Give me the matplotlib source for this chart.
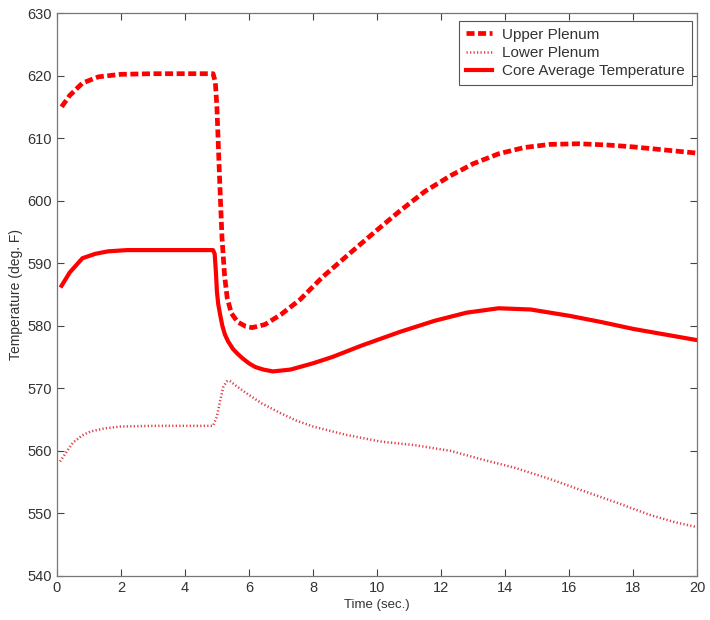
import matplotlib
matplotlib.use("Agg")
import matplotlib.pyplot as plt

# ---- data ----
upper_t = [0.15, 0.4, 0.8, 1.3, 2.0, 3.0, 4.0, 4.88, 4.95, 5.0, 5.08, 5.16, 5.24, 5.32,
           5.45, 5.65, 5.9, 6.1, 6.5, 7.0, 7.6, 8.3, 9.2, 10.0, 10.7, 11.5, 12.3, 13.0,
           13.8, 14.6, 15.4, 16.3, 17.2, 18.0, 19.0, 20.0]
upper_T = [615.0, 616.8, 618.8, 619.8, 620.2, 620.3, 620.3, 620.3, 619.0, 615.0, 604.0,
           594.0, 588.0, 584.5, 582.0, 580.6, 579.9, 579.7, 580.2, 581.8, 584.2, 587.8,
           591.8, 595.3, 598.3, 601.5, 604.0, 605.9, 607.5, 608.5, 609.0, 609.1, 608.9,
           608.6, 608.1, 607.6]

lower_t = [0.1, 0.3, 0.5, 0.8, 1.05, 1.5, 2.0, 3.0, 4.0, 4.88, 5.0, 5.1, 5.2, 5.3, 5.4,
           5.6, 5.9, 6.4, 7.0, 7.5, 8.0, 9.0, 10.1, 11.2, 12.3, 13.3, 14.3, 15.4, 16.5,
           17.5, 18.5, 19.3, 20.0]
lower_T = [558.3, 559.8, 561.3, 562.5, 563.1, 563.6, 563.9, 564.0, 564.0, 564.0, 565.5,
           568.0, 570.2, 571.1, 571.2, 570.4, 569.3, 567.6, 566.0, 564.8, 563.9, 562.6,
           561.5, 560.9, 560.0, 558.6, 557.3, 555.5, 553.5, 551.7, 549.8, 548.6, 547.8]

core_t = [0.15, 0.4, 0.8, 1.2, 1.6, 2.2, 3.0, 4.0, 4.88, 4.93, 4.97, 5.0, 5.04, 5.1,
          5.17, 5.25, 5.35, 5.5, 5.65, 5.8, 6.0, 6.2, 6.45, 6.75, 7.3, 8.0, 8.6, 9.5,
          10.7, 11.8, 12.8, 13.8, 14.8, 16.0, 17.0, 18.0, 19.0, 20.0]
core_T = [586.4, 588.5, 590.8, 591.5, 591.9, 592.1, 592.1, 592.1, 592.1, 591.5, 588.5,
          585.5, 583.5, 581.8, 580.0, 578.6, 577.5, 576.3, 575.5, 574.8, 574.0, 573.4,
          573.0, 572.7, 573.0, 574.0, 575.0, 576.8, 579.0, 580.8, 582.1, 582.8, 582.6,
          581.6, 580.6, 579.5, 578.6, 577.7]

labels = ["Upper Plenum", "Lower Plenum", "Core Average Temperature"]
x_ticks = list(range(0, 21, 2))
y_ticks = list(range(540, 631, 10))

plt.rcParams['font.family'] = ['Liberation Sans', 'DejaVu Sans']

fig = plt.figure(figsize=(7.1, 6.2), dpi=100)
ax = fig.add_axes([0.080, 0.071, 0.902, 0.908])

ax.plot(upper_t, upper_T, color='#ff0000', lw=3.4, linestyle=(0, (1.7, 0.75)),
        label=labels[0])
ax.plot(lower_t, lower_T, color='#e0404a', lw=1.8, linestyle=(0, (0.5, 0.9)),
        label=labels[1])
ax.plot(core_t, core_T, color='#ff0000', lw=3.0, label=labels[2],
        solid_joinstyle='round')

ax.set_xlim(0, 20)
ax.set_ylim(540, 630)
ax.set_xticks(x_ticks)
ax.set_yticks(y_ticks)
ax.tick_params(direction='in', top=True, right=True, length=5, width=0.8,
               colors='#444444', labelsize=10.5, labelcolor='#333333')
for s in ax.spines.values():
    s.set_color('#777777')
    s.set_linewidth(0.9)

ax.set_xlabel("Time (sec.)", fontsize=9.5, color='#333333', labelpad=3)
ax.set_ylabel("Temperature (deg. F)", fontsize=10, color='#333333')
ax.yaxis.set_label_coords(-0.052, 0.5)

leg = ax.legend(loc='upper right', bbox_to_anchor=(0.992, 0.986), fontsize=11,
                frameon=True, fancybox=False, framealpha=1, edgecolor='#555555',
                handlelength=1.7, borderpad=0.45, labelspacing=0.28, handletextpad=0.7,
                borderaxespad=0.0)
leg.get_frame().set_linewidth(0.8)
for t in leg.get_texts():
    t.set_color('#333333')

fig.savefig("out.png", dpi=100)
